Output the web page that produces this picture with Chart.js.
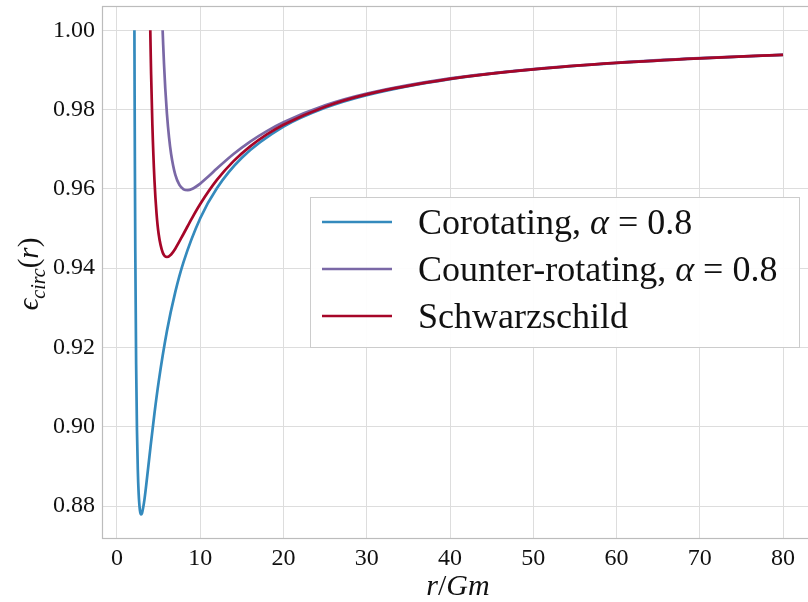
<!DOCTYPE html>
<html><head><meta charset="utf-8">
<script src="https://cdn.jsdelivr.net/npm/chart.js@4.4.0/dist/chart.umd.min.js"></script>
<style>html,body{margin:0;padding:0;background:#fff;overflow:hidden}</style>
</head><body>
<canvas id="c" width="808" height="602"></canvas>
<script>
// radius values (r/Gm) and specific energy
const rCo = [2.094, 2.12, 2.15, 2.2, 2.3, 2.4, 2.5, 2.6, 2.75, 2.9, 3.0, 3.25, 3.5, 4, 4.5, 5, 6, 7, 8, 10, 12, 15, 20, 25, 30, 40, 50, 60, 70, 80];
const eCo = [1.0000, 0.98275, 0.96597, 0.94419, 0.91577, 0.89916, 0.88922, 0.88332, 0.87900, 0.87787, 0.87816, 0.88091, 0.88507, 0.89443, 0.90334, 0.91125, 0.92413, 0.93394, 0.94157, 0.95259, 0.96015, 0.96784, 0.97568, 0.98044, 0.98364, 0.98768, 0.99012, 0.99175, 0.99292, 0.99380];
const rCr = [5.483, 5.55, 5.65, 5.8, 6, 6.25, 6.5, 7, 7.5, 8, 8.5, 9, 10, 11, 12, 14, 16, 18, 20, 25, 30, 40, 50, 60, 70, 80];
const eCr = [1.0000, 0.99632, 0.99144, 0.98532, 0.97894, 0.97304, 0.96881, 0.96359, 0.96100, 0.95989, 0.95966, 0.95995, 0.96134, 0.96318, 0.96512, 0.96878, 0.97193, 0.97458, 0.97682, 0.98106, 0.98403, 0.98786, 0.99022, 0.99181, 0.99296, 0.99383];
const rSc = [4, 4.02, 4.05, 4.1, 4.25, 4.5, 4.75, 5, 5.5, 6, 6.5, 7, 8, 9, 10, 12, 14, 16, 18, 20, 25, 30, 40, 50, 60, 70, 80];
const eSc = [1.0000, 0.99756, 0.99410, 0.98885, 0.97619, 0.96225, 0.95382, 0.94868, 0.94388, 0.94281, 0.94346, 0.94491, 0.94868, 0.95258, 0.95618, 0.96225, 0.96699, 0.97072, 0.97373, 0.97619, 0.98073, 0.98384, 0.98776, 0.99016, 0.99178, 0.99294, 0.99381];
const xTicks = [0, 10, 20, 30, 40, 50, 60, 70, 80];
const yTicks = [0.88, 0.90, 0.92, 0.94, 0.96, 0.98, 1.00];
const legendLabels = [
  [["Corotating, ", "n"], ["\u03B1", "i"], [" = 0.8", "n"]],
  [["Counter-rotating, ", "n"], ["\u03B1", "i"], [" = 0.8", "n"]],
  [["Schwarzschild", "n"]]
];
const xTitle = [["r", "i"], ["/", "n"], ["Gm", "i"]];
const yTitle = [["\u03F5", "i"], ["circ", "s"], ["(", "n"], ["r", "i"], [")", "n"]];

const colors = ['#348ABD', '#7A68A6', '#A60628'];
const FONT = '"Liberation Serif", "DejaVu Serif", serif';

function pts(xs, ys) { return xs.map((x, i) => ({x: x, y: ys[i]})); }

function fontFor(kind, size) {
  if (kind === 'i') return 'italic ' + size + 'px ' + FONT;
  if (kind === 's') return 'italic ' + Math.round(size * 0.7) + 'px ' + FONT;
  return size + 'px ' + FONT;
}
function segWidth(ctx, segs, size) {
  let w = 0;
  for (const s of segs) { ctx.font = fontFor(s[1], size); w += ctx.measureText(s[0]).width; }
  return w;
}
function drawSegs(ctx, segs, x, y, size) {
  for (const s of segs) {
    ctx.font = fontFor(s[1], size);
    const dy = s[1] === 's' ? size * 0.25 : 0;
    ctx.fillText(s[0], x, y + dy);
    x += ctx.measureText(s[0]).width;
  }
}

const decor = {
  id: 'decor',
  beforeDatasetsDraw(chart) {
    const {ctx, chartArea: a} = chart;
    ctx.save();
    ctx.strokeStyle = '#bcbcbc';
    ctx.lineWidth = 1.2;
    ctx.strokeRect(a.left + 0.5, a.top + 0.5, a.right - a.left + 4, a.bottom - a.top);
    ctx.restore();
  },
  afterDraw(chart) {
    const {ctx} = chart;
    ctx.save();
    // legend
    const bx = 310, by = 197, bw = 489, bh = 150;
    ctx.fillStyle = 'rgba(255,255,255,0.92)';
    ctx.fillRect(bx, by, bw, bh);
    ctx.strokeStyle = '#cccccc';
    ctx.lineWidth = 1;
    ctx.strokeRect(bx + 0.5, by + 0.5, bw, bh);
    const rows = [222, 269, 316];
    ctx.fillStyle = '#111';
    ctx.textBaseline = 'alphabetic';
    ctx.textAlign = 'left';
    legendLabels.forEach((segs, i) => {
      ctx.strokeStyle = colors[i];
      ctx.lineWidth = 2.6;
      ctx.beginPath();
      ctx.moveTo(322, rows[i]);
      ctx.lineTo(392, rows[i]);
      ctx.stroke();
      drawSegs(ctx, segs, 418, rows[i] + 12, 36);
    });
    // x title
    const xs = 30;
    const xw = segWidth(ctx, xTitle, xs);
    drawSegs(ctx, xTitle, 458 - xw / 2, 595, xs);
    // y title
    ctx.translate(38, 274);
    ctx.rotate(-Math.PI / 2);
    const yw = segWidth(ctx, yTitle, 29);
    drawSegs(ctx, yTitle, -yw / 2, 0, 29);
    ctx.restore();
  }
};

new Chart(document.getElementById('c'), {
  type: 'line',
  data: {
    datasets: [
      {label: 'Corotating, \u03B1 = 0.8', data: pts(rCo, eCo), borderColor: colors[0], order: 3},
      {label: 'Counter-rotating, \u03B1 = 0.8', data: pts(rCr, eCr), borderColor: colors[1], order: 2},
      {label: 'Schwarzschild', data: pts(rSc, eSc), borderColor: colors[2], order: 1}
    ]
  },
  options: {
    responsive: false,
    animation: false,
    layout: {padding: {top: 6, left: 0, right: 0, bottom: 0}},
    elements: {
      point: {radius: 0},
      line: {borderWidth: 2.7, cubicInterpolationMode: 'monotone', fill: false, borderCapStyle: 'butt'}
    },
    plugins: {legend: {display: false}, tooltip: {enabled: false}},
    scales: {
      x: {
        type: 'linear', min: -1.8, max: 83.0,
        afterBuildTicks: s => { s.ticks = xTicks.map(v => ({value: v})); },
        afterFit: s => { s.height = 64; s.paddingLeft = 0; s.paddingRight = 0; },
        grid: {color: '#dddddd', lineWidth: 1, drawTicks: false},
        border: {display: false},
        ticks: {padding: 6, color: '#111', font: {family: FONT, size: 24}, maxRotation: 0, callback: v => String(v)}
      },
      y: {
        type: 'linear', min: 0.87193, max: 1.00613,
        afterBuildTicks: s => { s.ticks = yTicks.map(v => ({value: v})); },
        afterFit: s => { s.width = 102; s.paddingTop = 0; s.paddingBottom = 0; },
        grid: {color: '#dddddd', lineWidth: 1, drawTicks: false},
        border: {display: false},
        ticks: {padding: 7, color: '#111', font: {family: FONT, size: 24}, callback: v => v.toFixed(2)}
      }
    }
  },
  plugins: [decor]
});
</script>
</body></html>
